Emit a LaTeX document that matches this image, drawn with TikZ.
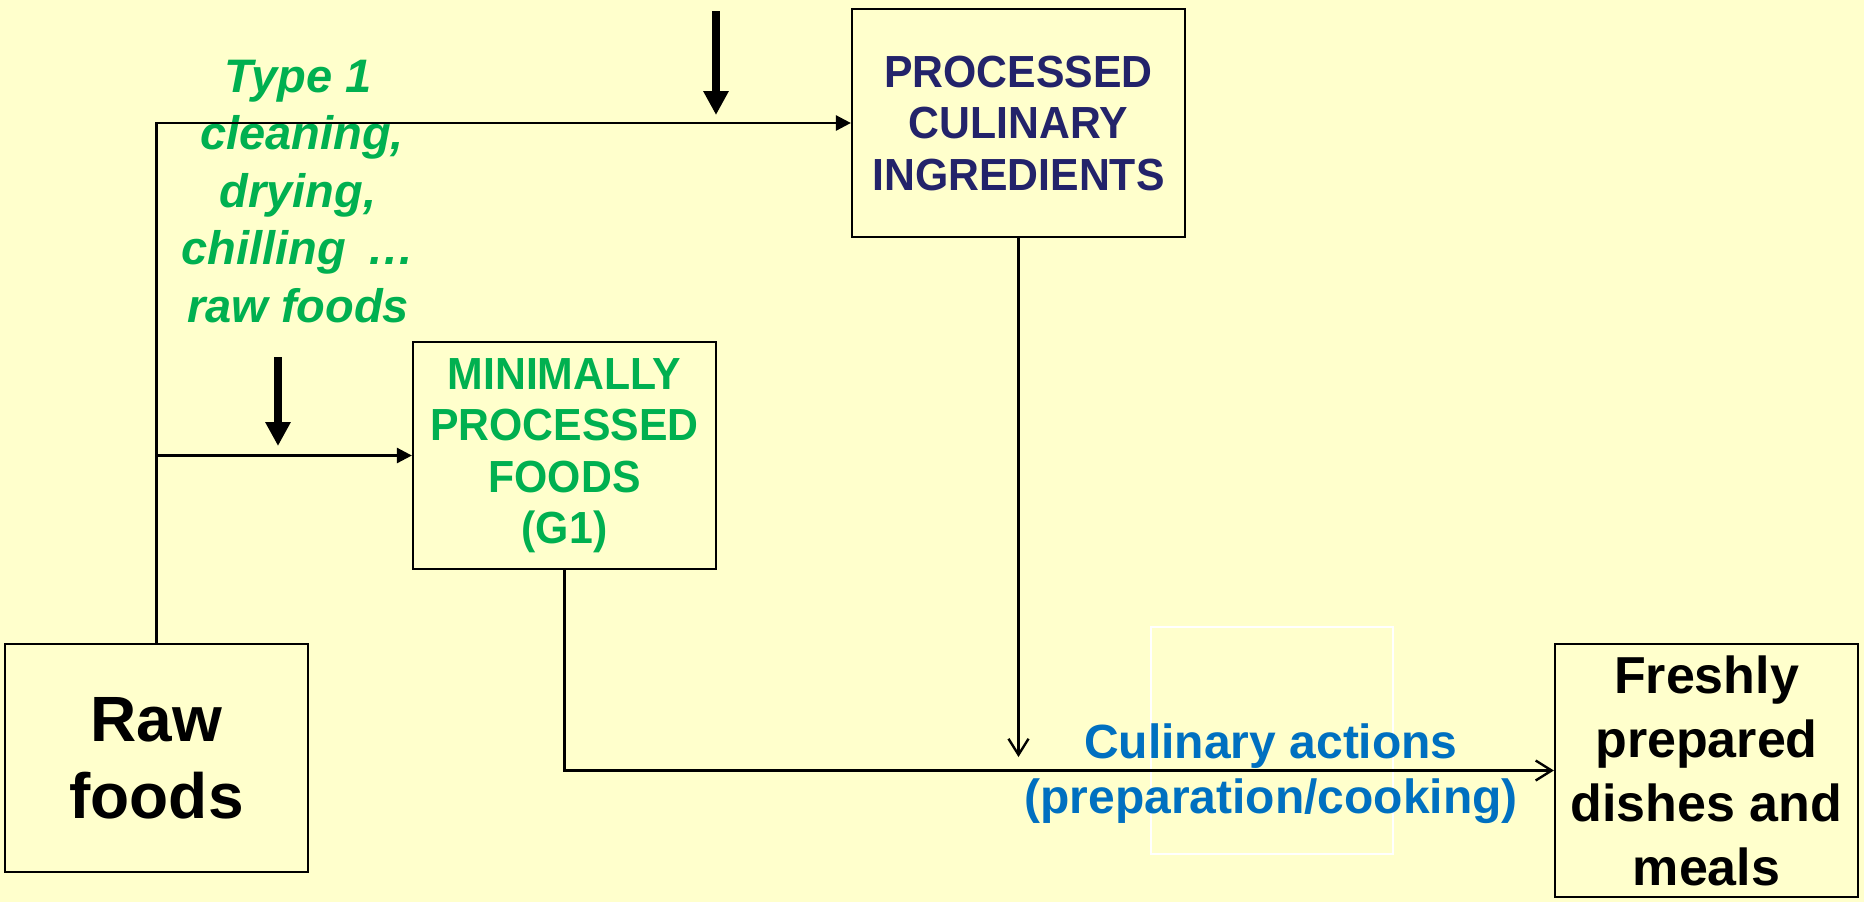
\documentclass[tikz,border=0pt]{standalone}
\usepackage{fontspec}
\setmainfont{Liberation Sans}
\newfontfamily\condensedfont[FakeStretch=0.95]{Liberation Sans}
\usetikzlibrary{arrows.meta}
\definecolor{bgyellow}{HTML}{FFFFCC}
\definecolor{pgreen}{HTML}{00B050}
\definecolor{pblue}{HTML}{0070C0}
\definecolor{pnavy}{HTML}{23236A}
\tikzset{
  box/.style={draw=black, line width=1.1pt, fill=bgyellow, inner sep=0pt, align=center},
  conn/.style={draw=black, line width=1.3pt, -{Triangle[length=7.5pt,width=7.5pt]}},
  openconn/.style={draw=black, line width=1.2pt, -{Straight Barb[length=8pt,width=10pt,line width=1.2pt]}},
  thickarrow/.style={draw=black, line width=4pt, -{Triangle[length=12pt,width=12pt]}},
}
\begin{document}
\begin{tikzpicture}[x=0.5pt,y=-0.5pt]
\fill[bgyellow] (0,0) rectangle (1864,902);
\useasboundingbox (0,0) rectangle (1864,902);

% boxes
\node[box, minimum width=151.5pt, minimum height=114pt,
      font=\bfseries\fontsize{32}{38.5}\selectfont] (raw) at (156.5,758) {Raw\\foods};
\node[box, minimum width=166.5pt, minimum height=114pt, text=pnavy,
      font=\condensedfont\bfseries\fontsize{22.5}{25.75}\selectfont] (pci) at (1018.5,123)
      {PROCESSED\\CULINARY\\INGREDIENTS};
\node[box, minimum width=151.5pt, minimum height=113.5pt, text=pgreen,
      font=\condensedfont\bfseries\fontsize{22.5}{25.75}\selectfont] (min) at (564.5,455.5)
      {MINIMALLY\\PROCESSED\\FOODS\\(G1)};
\node[box, minimum width=151.5pt, minimum height=126.5pt,
      font=\bfseries\fontsize{26}{32}\selectfont] (fresh) at (1706.5,770.5)
      {Freshly\\prepared\\dishes and\\meals};

% green process label
\node[text=pgreen, align=center, inner sep=0pt,
      font=\bfseries\itshape\fontsize{23.5}{28.75}\selectfont] (type) at (298,191.5)
      {Type 1\\\hspace*{4pt}cleaning,\\drying,\\chilling \,…\\raw foods};

% white frame
\node[draw=white, line width=0.6pt, minimum width=121pt, minimum height=113.5pt, inner sep=0pt] (wr) at (1272,740.5) {};

% connectors
\draw[conn] (raw.north) |- (pci.west);
\coordinate (j) at (raw.north |- min.west);
\draw[conn] (j) -- (min.west);
\draw[openconn] (min.south) |- (fresh.west);
\coordinate (pe) at (1018.5,757);
\draw[openconn] (pci.south) -- (pe);

% thick arrows
\coordinate (ta1) at (716,11);
\coordinate (ta2) at (716,115);
\draw[thickarrow] (ta1) -- (ta2);
\coordinate (tb1) at (278,357);
\coordinate (tb2) at (278,446);
\draw[thickarrow] (tb1) -- (tb2);

% culinary label
\node[text=pblue, align=center, inner sep=0pt,
      font=\bfseries\fontsize{24}{27.5}\selectfont] (cul) at (1271,773.5)
      {Culinary actions\\(preparation/cooking)};
\end{tikzpicture}
\end{document}
